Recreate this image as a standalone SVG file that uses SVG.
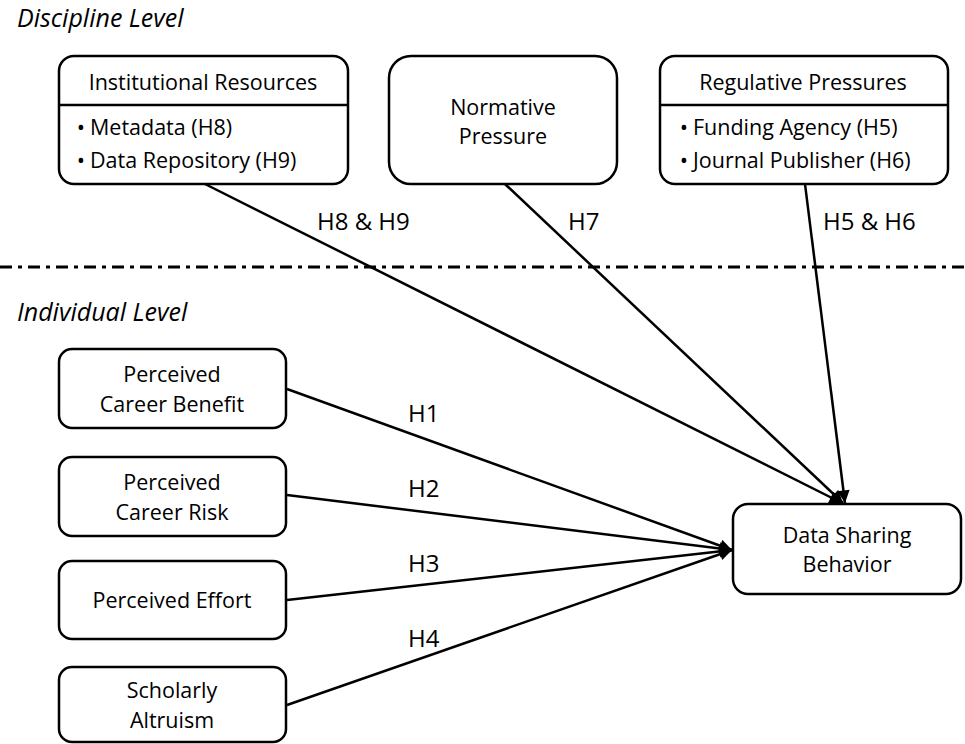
<svg xmlns="http://www.w3.org/2000/svg" width="965" height="744" viewBox="0 0 965 744">
  <style>
    .box { fill: #fff; stroke: #000; stroke-width: 2.5; }
    .div { stroke: #000; stroke-width: 2.5; }
    .t { font-family: "Open Sans", "Liberation Sans", sans-serif; font-size: 21.5px; fill: #000; }
    .c { text-anchor: middle; }
    .lvl { font-family: "Open Sans", "Liberation Sans", sans-serif; font-size: 25px; font-style: italic; fill: #000; }
    .lab { font-family: "Open Sans", "Liberation Sans", sans-serif; font-size: 24px; fill: #000; }
    .bul { font-family: "Open Sans", "Liberation Sans", sans-serif; font-size: 22px; fill: #000; text-anchor: middle; }
    .edge { stroke: #000; stroke-width: 2.5; fill: none; marker-end: url(#arrow); }
  </style>
  <defs>
    <marker id="arrow" viewBox="0 0 10 10" refX="10" refY="5" markerWidth="5.5" markerHeight="5" markerUnits="strokeWidth" orient="auto">
      <path d="M0,0 L10,5 L0,10 z" fill="#000"/>
    </marker>
  </defs>

  <rect width="965" height="744" fill="#fff"/>

  <!-- level captions and separator -->
  <text class="lvl" x="17" y="27">Discipline Level</text>
  <line x1="0" y1="267" x2="965" y2="267" stroke="#000" stroke-width="3" stroke-dasharray="12 6 4 6"/>
  <text class="lvl" x="17" y="321">Individual Level</text>

  <!-- connectors -->
  <g id="connectors">
    <line class="edge" x1="205" y1="184" x2="842" y2="503"/>
    <line class="edge" x1="505" y1="184" x2="843" y2="503"/>
    <line class="edge" x1="805" y1="184" x2="845" y2="503"/>
    <line class="edge" x1="287" y1="389" x2="732" y2="550"/>
    <line class="edge" x1="287" y1="495" x2="732" y2="550"/>
    <line class="edge" x1="287" y1="600" x2="732" y2="550"/>
    <line class="edge" x1="287" y1="705" x2="732" y2="550"/>
    <text class="lab" x="317" y="230">H8 &amp; H9</text>
    <text class="lab" x="568" y="230">H7</text>
    <text class="lab" x="823" y="230">H5 &amp; H6</text>
    <text class="lab" x="408" y="422">H1</text>
    <text class="lab" x="408" y="497">H2</text>
    <text class="lab" x="408" y="572">H3</text>
    <text class="lab" x="408" y="647">H4</text>
  </g>

  <!-- discipline level nodes -->
  <g id="institutional-resources">
    <rect class="box" x="59" y="56" width="289" height="128" rx="15"/>
    <line class="div" x1="59" y1="105" x2="348" y2="105"/>
    <text class="t c" x="203" y="90">Institutional Resources</text>
    <text class="bul" x="81" y="135">•</text>
    <text class="t" x="90" y="135">Metadata (H8)</text>
    <text class="bul" x="81" y="168">•</text>
    <text class="t" x="90" y="168">Data Repository (H9)</text>
  </g>

  <g id="normative-pressure">
    <rect class="box" x="389" y="56" width="228" height="128" rx="22"/>
    <text class="t c" x="503" y="115">Normative</text>
    <text class="t c" x="503" y="144">Pressure</text>
  </g>

  <g id="regulative-pressures">
    <rect class="box" x="660" y="56" width="288" height="128" rx="15"/>
    <line class="div" x1="660" y1="105" x2="948" y2="105"/>
    <text class="t c" x="803" y="90">Regulative Pressures</text>
    <text class="bul" x="684" y="135">•</text>
    <text class="t" x="693" y="135">Funding Agency (H5)</text>
    <text class="bul" x="684" y="168">•</text>
    <text class="t" x="693" y="168">Journal Publisher (H6)</text>
  </g>

  <!-- individual level nodes -->
  <g id="career-benefit">
    <rect class="box" x="59" y="349" width="227" height="79" rx="13"/>
    <text class="t c" x="172" y="382">Perceived</text>
    <text class="t c" x="172" y="412">Career Benefit</text>
  </g>

  <g id="career-risk">
    <rect class="box" x="59" y="457" width="227" height="79" rx="13"/>
    <text class="t c" x="172" y="490">Perceived</text>
    <text class="t c" x="172" y="520">Career Risk</text>
  </g>

  <g id="perceived-effort">
    <rect class="box" x="59" y="561" width="227" height="78" rx="13"/>
    <text class="t c" x="172" y="608">Perceived Effort</text>
  </g>

  <g id="scholarly-altruism">
    <rect class="box" x="59" y="667" width="227" height="75" rx="13"/>
    <text class="t c" x="172" y="698">Scholarly</text>
    <text class="t c" x="172" y="728">Altruism</text>
  </g>

  <g id="data-sharing-behavior">
    <rect class="box" x="733" y="504" width="228" height="90" rx="15"/>
    <text class="t c" x="847" y="543">Data Sharing</text>
    <text class="t c" x="847" y="572">Behavior</text>
  </g>
</svg>
